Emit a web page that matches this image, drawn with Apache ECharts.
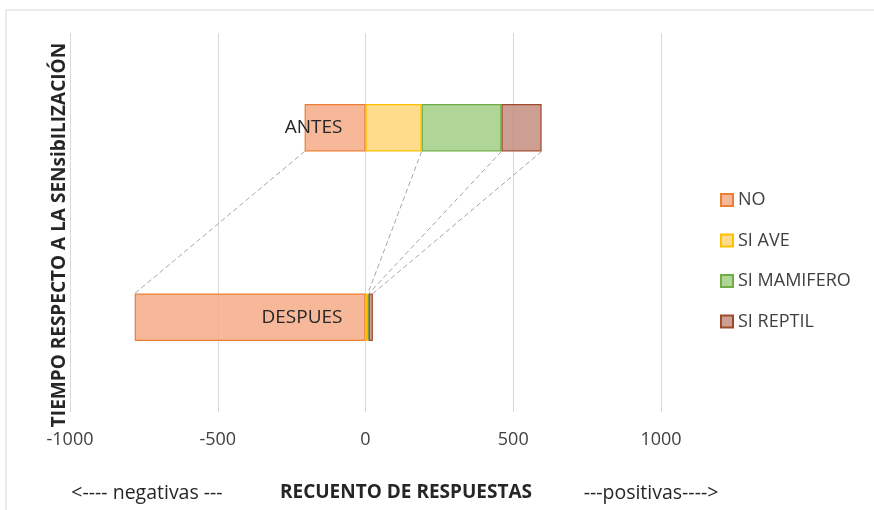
<!DOCTYPE html>
<html><head><meta charset="utf-8">
<script src="https://cdn.jsdelivr.net/npm/echarts@6/dist/echarts.min.js"></script>
<style>html,body{margin:0;padding:0;background:#fff}#c{width:874px;height:510px}</style>
</head><body><div id="c"></div>
<script>
const categories = ['ANTES', 'DESPUES'];
const seriesNames = ['NO', 'SI AVE', 'SI MAMIFERO', 'SI REPTIL'];
const noValues = [-206, -781];
const aveValues = [190, 8];
const mamiferoValues = [270, 3];
const reptilValues = [136, 14];
const xTicks = [-1000, -500, 0, 500, 1000];

const FONT = '"Open Sans", "Noto Sans", sans-serif';
const fills = ['rgba(246,170,135,0.85)', 'rgba(255,214,120,0.85)', 'rgba(155,203,125,0.8)', 'rgba(192,135,120,0.8)'];
const borders = ['#ED7D31', '#FFC000', '#70AD47', '#9E4A2A'];
const valueSets = [noValues, aveValues, mamiferoValues, reptilValues];

// connector (series lines) endpoints: outer edge of each series in both categories
function edges(ci) {
  const out = [noValues[ci]];
  let s = 0;
  [aveValues, mamiferoValues, reptilValues].forEach(a => { s += a[ci]; out.push(s); });
  return out;
}
const eA = edges(0), eD = edges(1);
const connData = eA.map((v, i) => [v, eD[i], 0]);

const barPct = 0.25;
const series = seriesNames.map((n, i) => ({
  name: n, type: 'bar', stack: 'tot', barWidth: (barPct * 100) + '%',
  data: valueSets[i],
  itemStyle: { color: fills[i], borderColor: borders[i], borderWidth: 1.2 },
  z: 3
}));
series.push({
  type: 'custom', name: 'conn', silent: true, z: 2,
  encode: { x: [0, 1], y: 2 },
  data: connData,
  renderItem: function (params, api) {
    const band = api.size([0, 1])[1];
    const half = band * barPct / 2;
    const p1 = api.coord([api.value(0), 0]);
    const p2 = api.coord([api.value(1), 1]);
    return {
      type: 'line',
      shape: { x1: p1[0], y1: p1[1] + half, x2: p2[0], y2: p2[1] - half },
      style: { stroke: '#a6a6a6', lineWidth: 1, lineDash: [5, 3] }
    };
  }
});
// category labels drawn at the zero line (axis crosses at 0)
series.push({
  type: 'custom', name: 'catLabels', silent: true, z: 10,
  encode: { x: 0, y: 1 },
  data: categories.map((c, i) => [0, i]),
  renderItem: function (params, api) {
    const p = api.coord([0, api.value(1)]);
    return {
      type: 'text', z2: 100,
      style: { text: categories[params.dataIndex], x: p[0] - 23, y: p[1], align: 'right', verticalAlign: 'middle',
        fontSize: 19, fill: '#262626', fontFamily: FONT }
    };
  }
});

const chart = echarts.init(document.getElementById('c'));
chart.setOption({
  animation: false,
  textStyle: { fontFamily: FONT },
  grid: { left: 70, right: 213, top: 33, bottom: 98, containLabel: false, outerBoundsMode: 'none' },
  legend: {
    orient: 'vertical', left: 720, top: 191, itemGap: 22.5, padding: 0,
    itemWidth: 12, itemHeight: 12, icon: 'rect',
    data: seriesNames,
    textStyle: { fontSize: 18, color: '#404040', fontFamily: FONT, padding: [0, 0, 0, 0] }
  },
  xAxis: {
    type: 'value', min: -1000, max: 1000, interval: 500,
    axisLine: { show: false }, axisTick: { show: false },
    splitLine: { lineStyle: { color: '#d9d9d9' } },
    axisLabel: { fontSize: 18, color: '#404040', margin: 19, fontFamily: FONT,
      formatter: v => String(v), customValues: xTicks }
  },
  yAxis: {
    type: 'category', data: categories, inverse: true,
    axisLine: { show: false }, axisTick: { show: false },
    axisLabel: { show: false }
  },
  graphic: [
    { type: 'rect', shape: { x: 6, y: 10, width: 900, height: 600 }, style: { fill: 'none', stroke: '#d9d9d9', lineWidth: 1 }, z: -10 },
    { type: 'text', x: 60, y: 235, rotation: Math.PI / 2, style: { text: 'TIEMPO RESPECTO A LA SENsibILIZACIÓN', fontSize: 19, fontWeight: 'bold', fill: '#262626', align: 'center', verticalAlign: 'middle', fontFamily: FONT } },
    { type: 'text', x: 147, y: 493, style: { text: '<---- negativas ---', fontSize: 19.5, fill: '#262626', align: 'center', verticalAlign: 'middle', fontFamily: FONT } },
    { type: 'text', x: 406, y: 493, style: { text: 'RECUENTO DE RESPUESTAS', fontSize: 19, fontWeight: 'bold', fill: '#262626', align: 'center', verticalAlign: 'middle', fontFamily: FONT } },
    { type: 'text', x: 651, y: 493, style: { text: '---positivas---->', fontSize: 19.5, fill: '#262626', align: 'center', verticalAlign: 'middle', fontFamily: FONT } }
  ],
  series: series
});
</script></body></html>
